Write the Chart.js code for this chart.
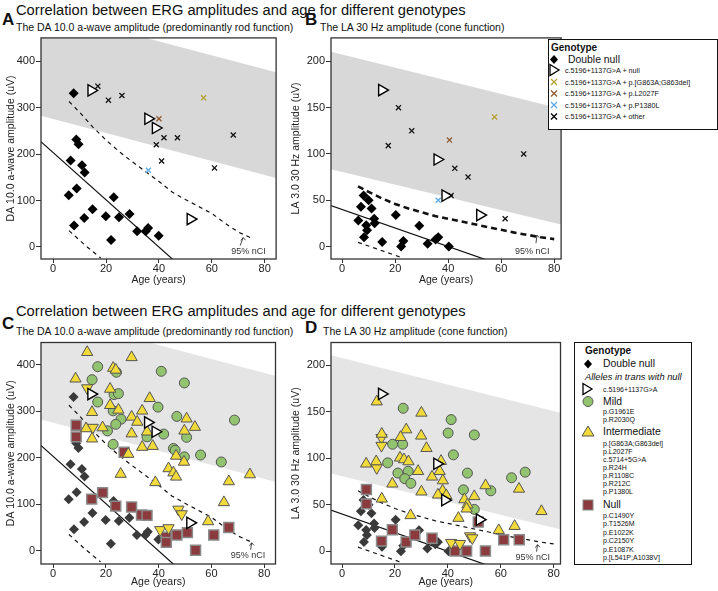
<!DOCTYPE html>
<html>
<head>
<meta charset="utf-8">
<script src="https://cdn.jsdelivr.net/npm/chart.js@4.4.1/dist/chart.umd.min.js"></script>
<style>
body { margin: 0; width: 718px; height: 591px; position: relative; overflow: hidden; background: #fff;
       font-family: "Liberation Sans", Arial, sans-serif; color: #111; }
canvas { position: absolute; }
.t { position: absolute; white-space: nowrap; line-height: 1; }
.b { font-weight: bold; }
.box { position: absolute; border: 1.3px solid #111; background: #fff; z-index: 2; }
.lg { position: absolute; white-space: nowrap; line-height: 1; z-index: 3; color: #111; }
#sym { position: absolute; left: 0; top: 0; z-index: 3; }
</style>
</head>
<body>

<div class="t" style="left:16px;top:2.5px;font-size:14.7px">Correlation between ERG amplitudes and age for different genotypes</div>
<div class="t b" style="left:2px;top:11px;font-size:17px">A</div>
<div class="t" style="left:16px;top:21.5px;font-size:10.5px">The DA 10.0 a-wave amplitude (predominantly rod function)</div>
<div class="t b" style="left:305px;top:11px;font-size:17px">B</div>
<div class="t" style="left:320px;top:21.5px;font-size:10.5px">The LA 30 Hz amplitude (cone function)</div>

<div class="t" style="left:16px;top:303.5px;font-size:14.7px">Correlation between ERG amplitudes and age for different genotypes</div>
<div class="t b" style="left:2px;top:314.5px;font-size:17px">C</div>
<div class="t" style="left:16px;top:326px;font-size:10.5px">The DA 10.0 a-wave amplitude (predominantly rod function)</div>
<div class="t b" style="left:305px;top:319px;font-size:17px">D</div>
<div class="t" style="left:323px;top:326px;font-size:10.5px">The LA 30 Hz amplitude (cone function)</div>

<canvas id="chartA" width="284" height="262" style="left:0;top:30px"></canvas>
<canvas id="chartB" width="284" height="262" style="left:285px;top:30px"></canvas>
<canvas id="chartC" width="284" height="257" style="left:0;top:334px"></canvas>
<canvas id="chartD" width="284" height="257" style="left:285px;top:334px"></canvas>

<!-- legend, top -->
<div class="box" style="left:548px;top:39px;width:168px;height:89px"></div>
<div class="lg b" style="left:551px;top:43px;font-size:10px">Genotype</div>
<div class="lg" style="left:568px;top:55px;font-size:10.4px">Double null</div>
<div class="lg" style="left:565px;top:67px;font-size:7.2px">c.5196+1137G&gt;A + null</div>
<div class="lg" style="left:565px;top:78.5px;font-size:7.2px">c.5196+1137G&gt;A + p.[G863A;G863del]</div>
<div class="lg" style="left:565px;top:90px;font-size:7.2px">c.5196+1137G&gt;A + p.L2027F</div>
<div class="lg" style="left:565px;top:101.5px;font-size:7.2px">c.5196+1137G&gt;A + p.P1380L</div>
<div class="lg" style="left:565px;top:113px;font-size:7.2px">c.5196+1137G&gt;A + other</div>

<!-- legend, bottom -->
<div class="box" style="left:574px;top:342px;width:116px;height:221px"></div>
<div class="lg b" style="left:585px;top:346px;font-size:10px">Genotype</div>
<div class="lg" style="left:603px;top:359px;font-size:10.4px">Double null</div>
<div class="lg" style="left:585px;top:372.5px;font-size:9.3px;font-style:italic">Alleles in trans with null</div>
<div class="lg" style="left:603px;top:386px;font-size:7px">c.5196+1137G&gt;A</div>
<div class="lg" style="left:603px;top:396.5px;font-size:10.4px">Mild</div>
<div class="lg" style="left:603px;top:407.5px;font-size:7px;line-height:8.5px">p.G1961E<br>p.R2030Q</div>
<div class="lg" style="left:603px;top:426.5px;font-size:10.4px">Intermediate</div>
<div class="lg" style="left:603px;top:440px;font-size:7px;line-height:7.95px">p.[G863A;G863del]<br>p.L2027F<br>c.5714+5G&gt;A<br>p.R24H<br>p.R1108C<br>p.R212C<br>p.P1380L</div>
<div class="lg" style="left:603px;top:500px;font-size:10.4px">Null</div>
<div class="lg" style="left:603px;top:511.5px;font-size:7px;line-height:8.5px">p.C1490Y<br>p.T1526M<br>p.E1022K<br>p.C2150Y<br>p.E1087K<br>p.[L541P;A1038V]</div>

<svg id="sym" width="718" height="591">
  <polygon points="554,55 558,59.5 554,64 550,59.5" fill="#000"/>
  <polygon points="550,64.5 559,70 550,75.5" fill="#fff" stroke="#000" stroke-width="1.3"/>
  <g stroke-width="1.3">
    <path d="M551,79 l6,6 M557,79 l-6,6" stroke="#b4a12e"/>
    <path d="M551,90.5 l6,6 M557,90.5 l-6,6" stroke="#8e5a2e"/>
    <path d="M551,102 l6,6 M557,102 l-6,6" stroke="#5aa9e6"/>
    <path d="M551,113.5 l6,6 M557,113.5 l-6,6" stroke="#000"/>
  </g>
  <polygon points="588,359.5 592,364 588,368.5 584,364" fill="#000"/>
  <polygon points="583,383.5 592,389 583,394.5" fill="#fff" stroke="#000" stroke-width="1.3"/>
  <circle cx="588" cy="401.5" r="5" fill="#92c36f" stroke="#555" stroke-width="1"/>
  <polygon points="588,426 594,436 582,436" fill="#f2da3a" stroke="#555" stroke-width="1"/>
  <rect x="583" y="500" width="10" height="10" fill="#8b3b3e" stroke="#8a8a8a" stroke-width="1"/>
</svg>

<script>
// axis ticks
const ageTicks = [0, 20, 40, 60, 80];
const rodTicks = [0, 100, 200, 300, 400];
const coneTicks = [0, 50, 100, 150, 200];

// double null patients
const dnRodAge = [7.75, 8.75, 9.6, 6.6, 10.9, 11.9, 5.9, 8.9, 14.9, 11.75, 7.9, 19.9, 22.9, 24.9, 28.9, 21.9, 31.75, 35, 35.9, 39.9];
const dnRodAmp = [331, 231, 221, 186, 176, 160, 111, 126, 81, 62, 46, 66, 107, 64, 71, 15, 34, 34, 41, 24];
const dnConeAge = [8.1, 7.1, 10, 11.1, 6.1, 9.1, 9.4, 8.25, 12.1, 12.25, 20.25, 15.1, 29.1, 23.1, 22.25, 32.25, 35.25, 36.25, 40.25];
const dnConeAmp = [55, 43, 50, 41, 28, 23, 17.5, 10, 30, 25, 34, 5, 22.5, 6, 0, 3, 7.5, 10, 0];

// c.5196+1137G>A + null
const deepRodAge = [14.4, 35.9, 38.75, 51.9];
const deepRodAmp = [337, 276, 256, 60];
const deepConeAge = [15, 35.9, 38.9, 52];
const deepConeAmp = [169, 94, 55, 34];

// c.5196+1137G>A + second allele (panels A, B)
const g863RodAge = [56.9], g863RodAmp = [321];
const l2027RodAge = [40], l2027RodAmp = [276];
const p1380RodAge = [36], p1380RodAmp = [165];
const otherRodAge = [16.9, 20.9, 26, 41.9, 47, 39, 41, 68.1, 61];
const otherRodAmp = [346, 316, 326, 235, 235, 220, 185, 241, 170];
const g863ConeAge = [57.5], g863ConeAmp = [140];
const l2027ConeAge = [40.5], l2027ConeAmp = [115];
const p1380ConeAge = [36.25], p1380ConeAmp = [50];
const otherConeAge = [21.25, 26.25, 17.4, 42.5, 47.5, 41.1, 68.5, 61.5];
const otherConeAmp = [150, 125, 109, 84.5, 75, 55, 100, 30];

// alleles in trans with null (panels C, D)
const mildRodAge = [16.9, 14.75, 16.9, 24, 41, 49.75, 23.1, 24.75, 22.75, 25.75, 23.75, 20.6, 39.75, 46.9, 35.6, 41.9, 50.6, 68.75, 22.75, 45.6, 46.25, 49.75, 55.9, 63.75];
const mildRodAmp = [396, 368, 320, 384, 386, 361, 336, 338, 301, 283, 272, 258, 309, 289, 245, 251, 244, 281, 229, 220, 216, 202, 206, 191];
const interRodAge = [12.9, 29.75, 8.5, 22.75, 23.75, 21.6, 14.75, 21.6, 24.75, 36.6, 33.75, 29.75, 31.9, 50.6, 53.75, 49.75, 12.5, 14.75, 18.75, 29.75, 35.6, 33.75, 37.75, 28.5, 46.6, 49.6, 25.6, 43.75, 45.6, 46.6, 38.75, 66.6, 74.6, 64.75, 58.75];
const interRodAmp = [427, 416, 370, 393, 389, 348, 298, 313, 303, 328, 301, 288, 277, 284, 266, 258, 263, 241, 265, 252, 256, 223, 225, 208, 204, 191, 165, 177, 168, 159, 147, 149, 164, 104, 63];
const interDownRodAge = [12.9, 15, 47.5, 48.75, 40.6, 43.75];
const interDownRodAmp = [350, 265, 89, 79, 45, 49];
const nullRodAge = [8.75, 8.75, 26.9, 18.75, 14.6, 23.75, 29.75, 33.5, 35.6, 42.9, 42.9, 46.9, 50.9, 54, 60.9, 66.6];
const nullRodAmp = [270, 245, 212, 125, 111, 96, 94, 77, 76, 29, 18, 34, 39, 1, 34, 50];

const mildConeAge = [23.1, 41.25, 40.1, 50, 42.1, 19.1, 22.9, 17.25, 21.1, 25, 23.7, 26, 47.4, 45.9, 56.25, 64.1, 69.25, 50];
const mildConeAmp = [153.6, 141.4, 127, 125, 103.6, 115, 115, 95, 84, 86, 78, 73, 84, 66, 65, 79, 85, 45];
const interConeAge = [13.1, 30, 24.25, 22.1, 29.9, 15, 31.9, 9.1, 12.9, 21.9, 23.4, 25.1, 28.75, 34, 36.9, 37.4, 38.1, 38, 36.25, 39.4, 19, 30, 54.25, 66.9, 50, 46.25, 47.4, 47.1, 15, 25.9, 44, 59.25, 65.25, 75.4];
const interConeAmp = [160.7, 148.6, 130.7, 122.5, 124, 126, 110.7, 94, 96.4, 100.4, 98.6, 96.4, 86, 80, 86, 96.8, 76, 65, 60.7, 60, 72.5, 64, 70.7, 67, 59, 55.7, 50, 45.7, 56.4, 38.6, 35.7, 22.5, 27, 43];
const interDownConeAge = [14.9, 14.9, 13.1, 41.25, 44.6, 48.4, 49.25];
const interDownConeAmp = [122, 113.5, 89.6, 9.3, 8.2, 16.4, 14.3];
const nullConeAge = [9.2, 9.2, 14.9, 19, 24.2, 27.5, 34, 42.7, 47.1, 54.2, 61.1, 67, 51.5];
const nullConeAmp = [66.4, 51, 11, 23.2, 10, 17.5, 14, 0.4, 0.4, 0.4, 12.5, 12.5, 31.5];

// fit for double null, 95% limits, and normal range band
const fitAge = [-5, 60];
const fitRod = [228.5, -102];
const fitCone = [45, -20];
const ciRodAge = [6, 10, 15, 20, 25, 30, 35, 40, 45, 50, 55, 60, 65, 70, 75];
const ciRodHi = [313, 290, 258, 230, 205, 183, 162, 141, 118, 102, 87, 72, 51, 32, 19];
const ciRodLoAge = [6, 12, 18];
const ciRodLo = [35, 4, -24];
const ciConeAge = [6, 10, 15, 20, 25, 30, 35, 40, 45, 50, 55, 60, 65, 70, 75, 80];
const ciConeHi = [65, 59, 52, 46, 41, 37, 33, 30, 27, 24, 21, 18, 15, 12.5, 10, 8];
const ciConeLoAge = [6, 14, 22];
const ciConeLo = [4.5, -3.5, -11.5];
const bandAge = [-5, 85];
const bandRodHi = [510, 375], bandRodLo = [283, 147];
const bandConeHi = [211, 147], bandConeLo = [84, 22];

const pt = (ages, vals) => ages.map((a, i) => ({x: a, y: vals[i]}));

function marks(ages, vals, style) {
    return Object.assign({data: pt(ages, vals), showLine: false, order: 1}, style);
}
function curve(ages, vals, style) {
    return Object.assign({data: pt(ages, vals), showLine: true, pointRadius: 0, borderColor: '#111',
        borderWidth: 1.2, fill: false, order: 5}, style);
}
function band(hi, lo, color) {
    return [
        curve(bandAge, hi, {borderColor: 'rgba(0,0,0,0)', backgroundColor: color, fill: '+1', order: 9}),
        curve(bandAge, lo, {borderColor: 'rgba(0,0,0,0)', order: 9})
    ];
}

const frame = {
    id: 'frame',
    afterDatasetsDraw(chart) {
        const {ctx, chartArea: a} = chart;
        ctx.save();
        ctx.strokeStyle = '#333';
        ctx.lineWidth = 1.3;
        ctx.strokeRect(a.left, a.top, a.right - a.left, a.bottom - a.top);
        ctx.restore();
    }
};

const nciNote = {
    id: 'nci',
    afterDatasetsDraw(chart, args, o) {
        const ctx = chart.ctx;
        const x = chart.scales.x.getPixelForValue(o.age);
        const y = chart.scales.y.getPixelForValue(o.amp);
        ctx.save();
        ctx.font = '9px "Liberation Sans", Arial';
        ctx.fillStyle = '#333';
        ctx.textBaseline = 'middle';
        ctx.fillText('95% nCI', x, y);
        ctx.strokeStyle = '#333';
        ctx.lineWidth = 0.9;
        const x0 = x + o.tail[0], y0 = y + o.tail[1], x1 = x + o.tip[0], y1 = y + o.tip[1];
        ctx.beginPath();
        ctx.moveTo(x0, y0);
        ctx.lineTo(x1, y1);
        ctx.stroke();
        ctx.beginPath();
        ctx.moveTo(x1 - 2.2, y1 + 3);
        ctx.lineTo(x1, y1);
        ctx.lineTo(x1 + 2.4, y1 + 2.6);
        ctx.stroke();
        ctx.restore();
    }
};

const tickFont = {family: '"Liberation Sans", Arial', size: 11};
const titleFont = {family: '"Liberation Sans", Arial', size: 10.5};

function makeChart(id, p) {
    return new Chart(document.getElementById(id), {
        type: 'scatter',
        data: {datasets: p.datasets},
        options: {
            responsive: false,
            animation: false,
            events: [],
            layout: {padding: {top: p.top, right: 6, left: 0, bottom: 0}},
            plugins: {legend: {display: false}, tooltip: {enabled: false}, nci: p.nci},
            scales: {
                x: {
                    min: p.xmin, max: p.xmax,
                    afterBuildTicks: s => { s.ticks = ageTicks.map(v => ({value: v})); },
                    afterFit: s => { s.height = p.xh; },
                    grid: {drawOnChartArea: false, tickLength: 4, color: '#333'},
                    border: {display: false},
                    ticks: {font: tickFont, color: '#222', padding: -1, maxRotation: 0},
                    title: {display: true, text: 'Age (years)', font: titleFont, color: '#222',
                        padding: {top: 0, bottom: p.xtPad}}
                },
                y: {
                    min: p.ymin, max: p.ymax,
                    afterBuildTicks: s => { s.ticks = p.yticks.map(v => ({value: v})); },
                    afterFit: s => { s.width = p.yw; },
                    grid: {drawOnChartArea: false, tickLength: 5, color: '#333'},
                    border: {display: false},
                    ticks: {font: tickFont, color: '#222', padding: 1},
                    title: {display: true, text: p.ytitle, font: titleFont, color: '#222',
                        padding: {top: 5, bottom: 0}}
                }
            }
        },
        plugins: [frame, nciNote]
    });
}

const diamond = c => ({pointStyle: 'rectRot', pointRadius: 5, backgroundColor: c, borderColor: c, borderWidth: 0});
const openTri = {pointStyle: 'triangle', rotation: 90, pointRadius: 6.5, backgroundColor: '#fff',
    borderColor: '#000', borderWidth: 1.4, order: 0};
const cross = c => ({pointStyle: 'crossRot', pointRadius: 3.6, borderColor: c, borderWidth: 1.3});
const circle = {pointStyle: 'circle', pointRadius: 5, backgroundColor: '#92c36f', borderColor: '#555', borderWidth: 1};
const upTri = {pointStyle: 'triangle', pointRadius: 6.5, backgroundColor: '#f2da3a', borderColor: '#555', borderWidth: 1};
const downTri = Object.assign({}, upTri, {rotation: 180});
const square = {pointStyle: 'rect', pointRadius: 7, backgroundColor: '#8b3b3e', borderColor: '#8a8a8a', borderWidth: 1.5};

makeChart('chartA', {
    top: 7, xh: 33, xtPad: 5.5, yw: 41, xmin: -4.6, xmax: 84.3, ymin: -26, ymax: 450,
    yticks: rodTicks, ytitle: 'DA 10.0 a-wave amplitude (uV)',
    nci: {age: 67.3, amp: -10, tail: [9, -6], tip: [12, -14]},
    datasets: [
        marks(deepRodAge, deepRodAmp, openTri),
        marks(otherRodAge, otherRodAmp, cross('#111')),
        marks(g863RodAge, g863RodAmp, cross('#b4a12e')),
        marks(l2027RodAge, l2027RodAmp, cross('#8e5a2e')),
        marks(p1380RodAge, p1380RodAmp, cross('#5aa9e6')),
        marks(dnRodAge, dnRodAmp, diamond('#000')),
        curve(fitAge, fitRod),
        curve(ciRodAge, ciRodHi, {borderDash: [4, 4]}),
        curve(ciRodLoAge, ciRodLo, {borderDash: [4, 4]}),
        ...band(bandRodHi, bandRodLo, '#d8d8d8')
    ]
});

makeChart('chartB', {
    top: 7, xh: 33, xtPad: 5.5, yw: 46, xmin: -4.2, xmax: 82.6, ymin: -13.5, ymax: 225.4,
    yticks: coneTicks, ytitle: 'LA 3.0 30 Hz amplitude (uV)',
    nci: {age: 65.2, amp: -5, tail: [21, -8], tip: [22, -16]},
    datasets: [
        marks(deepConeAge, deepConeAmp, openTri),
        marks(otherConeAge, otherConeAmp, cross('#111')),
        marks(g863ConeAge, g863ConeAmp, cross('#b4a12e')),
        marks(l2027ConeAge, l2027ConeAmp, cross('#8e5a2e')),
        marks(p1380ConeAge, p1380ConeAmp, cross('#5aa9e6')),
        marks(dnConeAge, dnConeAmp, diamond('#000')),
        curve(fitAge, fitCone),
        curve(ciConeAge, ciConeHi, {borderDash: [6, 4], borderWidth: 2.6}),
        curve(ciConeLoAge, ciConeLo, {borderDash: [4, 4]}),
        ...band(bandConeHi, bandConeLo, '#d8d8d8')
    ]
});

makeChart('chartC', {
    top: 8, xh: 27, xtPad: 2.5, yw: 41, xmin: -4.6, xmax: 84.3, ymin: -28.5, ymax: 448,
    yticks: rodTicks, ytitle: 'DA 10.0 a-wave amplitude (uV)',
    nci: {age: 67.3, amp: -10.7, tail: [20, -6], tip: [21, -13]},
    datasets: [
        marks(deepRodAge, deepRodAmp, openTri),
        marks(interRodAge, interRodAmp, upTri),
        marks(interDownRodAge, interDownRodAmp, downTri),
        marks(mildRodAge, mildRodAmp, circle),
        marks(nullRodAge, nullRodAmp, square),
        marks(dnRodAge, dnRodAmp, diamond('#3a3a3a')),
        curve(fitAge, fitRod),
        curve(ciRodAge, ciRodHi, {borderDash: [4, 4]}),
        curve(ciRodLoAge, ciRodLo, {borderDash: [4, 4]}),
        ...band(bandRodHi, bandRodLo, '#e5e5e5')
    ]
});

makeChart('chartD', {
    top: 8, xh: 27, xtPad: 2.5, yw: 46, xmin: -4.2, xmax: 82.6, ymin: -13.6, ymax: 224.2,
    yticks: coneTicks, ytitle: 'LA 3.0 30 Hz amplitude (uV)',
    nci: {age: 65.6, amp: -6.8, tail: [21, -6], tip: [22, -13]},
    datasets: [
        marks(deepConeAge, deepConeAmp, openTri),
        marks(interConeAge, interConeAmp, upTri),
        marks(interDownConeAge, interDownConeAmp, downTri),
        marks(mildConeAge, mildConeAmp, circle),
        marks(nullConeAge, nullConeAmp, square),
        marks(dnConeAge, dnConeAmp, diamond('#3a3a3a')),
        curve(fitAge, fitCone),
        curve(ciConeAge, ciConeHi, {borderDash: [4, 4]}),
        curve(ciConeLoAge, ciConeLo, {borderDash: [4, 4]}),
        ...band(bandConeHi, bandConeLo, '#e5e5e5')
    ]
});
</script>
</body>
</html>
